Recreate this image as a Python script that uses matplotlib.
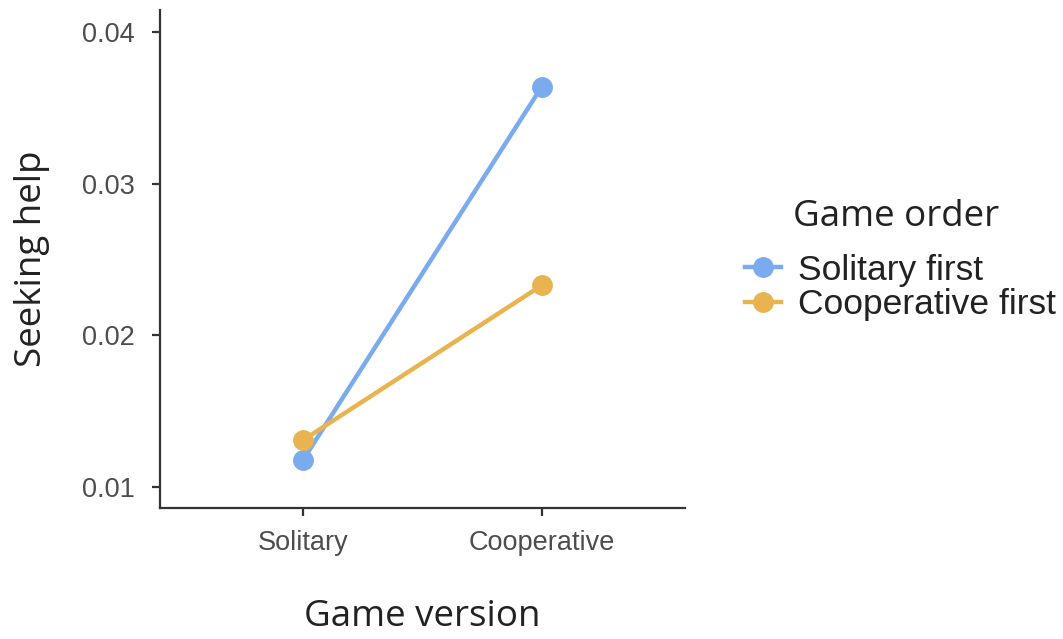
import matplotlib
matplotlib.use("Agg")
import matplotlib.pyplot as plt
from matplotlib.lines import Line2D

VERSIONS = ["Solitary", "Cooperative"]
SOLITARY_FIRST = [0.0118, 0.0364]
COOPERATIVE_FIRST = [0.0131, 0.0233]
ORDER_LABELS = ["Solitary first", "Cooperative first"]
COLORS = ["#7AABEE", "#E9B44F"]
Y_TICKS = [0.01, 0.02, 0.03, 0.04]

TICK_FONT = "Liberation Sans"
TITLE_FONT = "Open Sans"

fig = plt.figure(figsize=(10.63, 6.39), dpi=100)
ax = fig.add_axes([0.1505, 0.205, 0.4939, 0.7793])

x = list(range(len(VERSIONS)))
for vals, col in zip([SOLITARY_FIRST, COOPERATIVE_FIRST], COLORS):
    ax.plot(x, vals, color=col, lw=3.2, marker="o", ms=14,
            solid_capstyle="round", zorder=3)

ax.set_xlim(-0.6, 1.6)
ax.set_ylim(0.00862, 0.04145)
ax.set_xticks(x)
ax.set_xticklabels(VERSIONS)
ax.set_yticks(Y_TICKS)
ax.set_yticklabels([f"{v:.2f}" for v in Y_TICKS])

for s in ["top", "right"]:
    ax.spines[s].set_visible(False)
for s in ["left", "bottom"]:
    ax.spines[s].set_color("#333333")
    ax.spines[s].set_linewidth(1.6)

ax.tick_params(axis="both", direction="out", length=6, width=1.6,
               color="#333333", labelcolor="#4D4D4D", labelsize=19.5)
ax.tick_params(axis="y", pad=12)
ax.tick_params(axis="x", pad=10)
for lab in ax.get_xticklabels() + ax.get_yticklabels():
    lab.set_fontfamily(TICK_FONT)

ax.set_xlabel("Game version", fontsize=26.5, family=TITLE_FONT, color="#222222", labelpad=31)
ax.set_ylabel("Seeking help", fontsize=26.5, family=TITLE_FONT, color="#222222", labelpad=23)

handles = [Line2D([0], [0], color=c, lw=3.2, marker="o", ms=14) for c in COLORS]
leg = fig.legend(handles, ORDER_LABELS, loc="upper left", bbox_to_anchor=(0.701, 0.603),
                 frameon=False, borderpad=0, borderaxespad=0,
                 handlelength=1.0, handletextpad=0.5, labelspacing=0.05,
                 prop={"family": TICK_FONT, "size": 25.5})
for t in leg.get_texts():
    t.set_color("#222222")

fig.text(0.746, 0.661, "Game order", fontsize=26.5, family=TITLE_FONT,
         color="#222222", ha="left", va="center")

fig.savefig("out.png", dpi=100)
plt.close(fig)
